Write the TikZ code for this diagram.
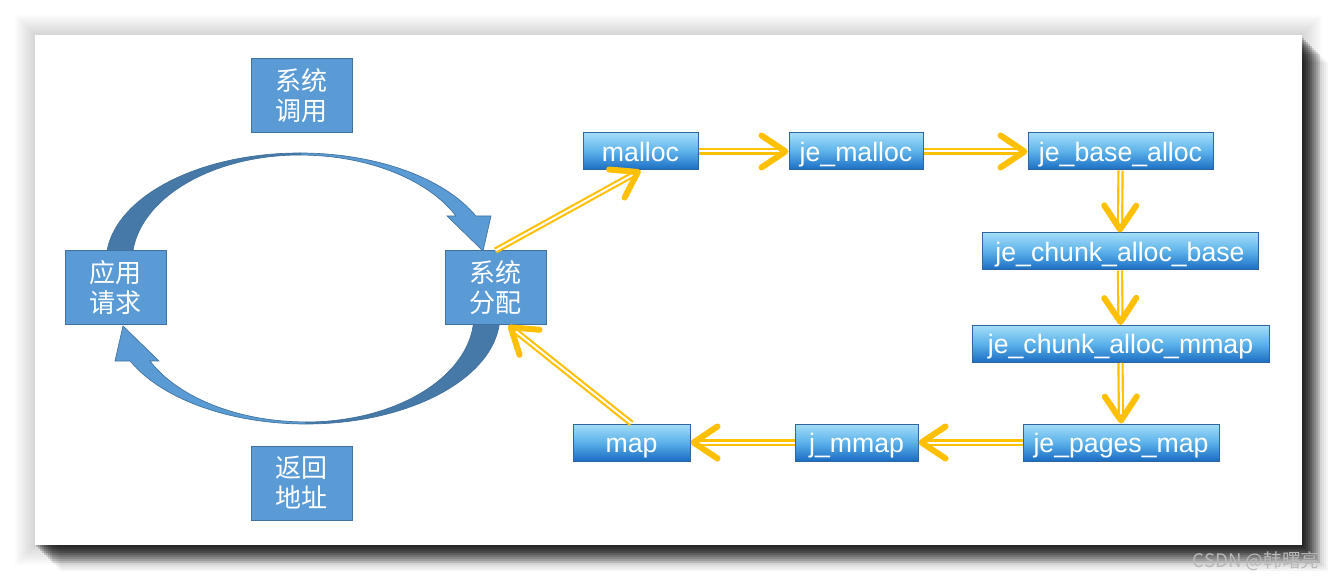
\documentclass[tikz,border=0pt]{standalone}
\usepackage{fontspec}
\setmainfont{Liberation Sans}
\newfontfamily\cjk{Noto Sans CJK SC}
\usetikzlibrary{arrows.meta,calc}
\definecolor{ygold}{HTML}{FFC000}
\definecolor{cblue}{HTML}{5B9BD5}
\definecolor{cedge}{HTML}{41719C}
\definecolor{cdark}{HTML}{4779A8}
\definecolor{gtop}{HTML}{A3DDF8}
\definecolor{gmid}{HTML}{5BB1EA}
\definecolor{gbot}{HTML}{1A6CC2}
\definecolor{gedge}{HTML}{2E64A0}
\newcommand\yarr[2]{\draw[yshaft] (#1) -- (#2); \draw[yhead] ($(#2)!5pt!(#1)$) -- (#2);}
\begin{document}
\begin{tikzpicture}[x=0.75pt,y=-0.75pt,
  cbox/.style={draw=cedge, line width=0.75pt, fill=cblue, text=white,
    minimum width=75.75pt, minimum height=55.5pt, inner sep=0pt, align=center,
    font=\cjk\fontsize{19.5}{22.5}\selectfont},
  fbox/.style={draw=gedge, line width=0.75pt, top color=gtop, bottom color=gbot,
    middle color=gmid, text=white, minimum height=27.75pt, inner sep=0pt,
    text height=14.6pt, text depth=0pt, font=\fontsize{20}{24}\selectfont},
  yshaft/.style={draw=ygold, double=white, line width=1.6pt, double distance=1.5pt, shorten >=5pt},
  yhead/.style={draw=ygold, line width=0.01pt,
    -{Straight Barb[length=18pt, width=24pt, line width=4.5pt, round]}},
  arrowlight/.style={fill=cblue, draw=cedge, line width=0.5pt},
  arrowdark/.style={fill=cdark, draw=cedge, line width=0.5pt}
]
\useasboundingbox (0,0) rectangle (1337,580);
\fill[white] (0,0) rectangle (1337,580);
% soft halo
\foreach \e in {2,4,...,20}
  \fill[black, opacity=0.014] (35-\e,35-\e) rectangle (1302+\e,545+\e);
% dark shadow, right and bottom only
\foreach \e/\a in {0/0.167,2/0.167,4/0.167,6/0.167,8/0.167,10/0.125,12/0.125,14/0.125,16/0.125,18/0.04,20/0.04,22/0.04,24/0.04}
  \fill[black, opacity=\a] (36+\e,38+\e) rectangle (1304+\e,547+\e);
% card
\fill[white] (35,35) rectangle (1302,545);

% circular arrows
\begin{scope}
  \filldraw[arrowdark] (106,262) arc[start angle=180, end angle=270, x radius=194, y radius=109]
    -- (300,155) arc[start angle=270, end angle=180, x radius=168, y radius=107] -- cycle;
  \filldraw[arrowlight] (300,153) arc[start angle=270, end angle=335, x radius=194, y radius=109]
    -- (491,216) -- (483,251) -- (447,216) -- (456,216)
    arc[start angle=334.5, end angle=270, x radius=173, y radius=107] -- cycle;
\end{scope}
\begin{scope}[rotate around={180:(303,288.5)}]
  \filldraw[arrowdark] (106,262) arc[start angle=180, end angle=270, x radius=194, y radius=109]
    -- (300,155) arc[start angle=270, end angle=180, x radius=168, y radius=107] -- cycle;
  \filldraw[arrowlight] (300,153) arc[start angle=270, end angle=335, x radius=194, y radius=109]
    -- (491,216) -- (483,251) -- (447,216) -- (456,216)
    arc[start angle=334.5, end angle=270, x radius=173, y radius=107] -- cycle;
\end{scope}

% Chinese boxes
\node[cbox] (call) at (301.5,96) {系统\\调用};
\node[cbox] (app)  at (115.5,288) {应用\\请求};
\node[cbox] (sys)  at (495.5,288) {系统\\分配};
\node[cbox] (ret)  at (301.5,483) {返回\\地址};

% function boxes
\node[fbox, minimum width=86.25pt]  (malloc)    at (640.5,151.5) {malloc};
\node[fbox, minimum width=100.5pt]  (jemalloc)  at (856,151.5)   {je\_malloc};
\node[fbox, minimum width=138.75pt] (jebase)    at (1120.5,151.5){je\_base\_alloc};
\node[fbox, minimum width=207pt]    (chunkbase) at (1120,251.5)  {je\_chunk\_alloc\_base};
\node[fbox, minimum width=222.75pt] (chunkmmap) at (1120.5,344)  {je\_chunk\_alloc\_mmap};
\node[fbox, minimum width=147pt]    (pagesmap)  at (1121,442.5)  {je\_pages\_map};
\node[fbox, minimum width=92.25pt]  (jmmap)     at (856.5,442.5) {j\_mmap};
\node[fbox, minimum width=87.75pt]  (map)       at (631.5,442.5) {map};

% yellow arrows
\yarr{sys.north}{malloc.south}
\yarr{malloc.east}{jemalloc.west}
\yarr{jemalloc.east}{jebase.west}
\yarr{jebase.south}{chunkbase.north}
\yarr{chunkbase.south}{chunkmmap.north}
\yarr{chunkmmap.south}{pagesmap.north}
\yarr{pagesmap.west}{jmmap.east}
\yarr{jmmap.west}{map.east}
\yarr{map.north}{sys.-71}

% watermark
\node[text=black!28, font=\cjk\fontsize{14}{16}\selectfont] (wm) at (1256,561) {CSDN @韩曙亮};
\end{tikzpicture}
\end{document}
